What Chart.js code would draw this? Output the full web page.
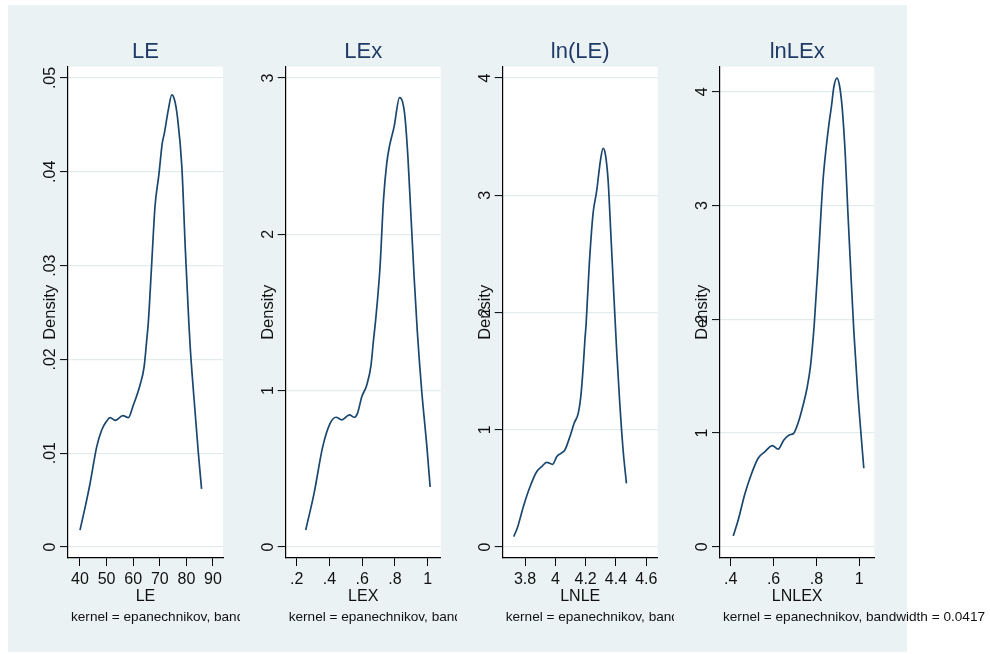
<!DOCTYPE html>
<html>
<head>
<meta charset="utf-8">
<script src="https://cdn.jsdelivr.net/npm/chart.js@4.4.1/dist/chart.umd.min.js"></script>
<style>
  html, body { margin: 0; padding: 0; background: #fff; }
  body { width: 990px; height: 654px; position: relative; overflow: hidden; }
  #bg { position: absolute; left: 8px; top: 5px; width: 899px; height: 647px; background: #eaf2f3; }
  canvas { position: absolute; top: 0; }
</style>
</head>
<body>
<div id="bg"></div>
<canvas id="pLE" width="232" height="654" style="left:8px"></canvas>
<canvas id="pLEX" width="217" height="654" style="left:240px"></canvas>
<canvas id="pLNLE" width="217" height="654" style="left:457px"></canvas>
<canvas id="pLNLEX" width="316" height="654" style="left:674px"></canvas>
<script>
// kernel density curves
const leX = [40, 41.9, 43.8, 46.3, 48.2, 50, 51.3, 53.2, 56.1, 58.2, 59.9, 62.6, 64.1, 65.1, 65.7, 66.9, 68.2, 69.7, 70.9, 71.7, 73.2, 74.5, 75.5, 76.6, 78.3, 79.6, 80.9, 81.5, 82.9, 84.5, 85.7];
const leDensity = [.0018, .0042, .0068, .0107, .0125, .0134, .0138, .0135, .0140, .0138, .0150, .0173, .0192, .0221, .0240, .0299, .0363, .0398, .0430, .0441, .0466, .0482, .0477, .0459, .0405, .0317, .0240, .0210, .0157, .0100, .0062];

const lexX = [.255, .306, .359, .404, .440, .475, .522, .552, .571, .598, .628, .654, .669, .681, .709, .730, .750, .766, .795, .828, .846, .861, .879, .897, .917, .936, .963, .995, 1.015];
const lexDensity = [.109, .343, .642, .791, .830, .813, .845, .830, .855, .962, 1.036, 1.164, 1.324, 1.44, 1.793, 2.22, 2.455, 2.561, 2.689, 2.875, 2.849, 2.753, 2.497, 2.135, 1.729, 1.388, 1.004, .642, .384];

const lnleX = [3.726, 3.752, 3.789, 3.833, 3.877, 3.910, 3.943, 3.982, 4.009, 4.037, 4.063, 4.096, 4.124, 4.151, 4.168, 4.184, 4.195, 4.203, 4.223, 4.249, 4.272, 4.298, 4.315, 4.331, 4.348, 4.366, 4.386, 4.405, 4.425, 4.447, 4.469];
const lnleDensity = [.088, .173, .344, .514, .642, .685, .722, .705, .770, .799, .827, .941, 1.055, 1.140, 1.282, 1.538, 1.765, 1.90, 2.39, 2.846, 3.03, 3.30, 3.40, 3.343, 3.13, 2.675, 2.149, 1.663, 1.228, .827, .543];

const lnlexX = [.412, .435, .467, .498, .528, .560, .595, .621, .648, .673, .694, .714, .738, .756, .772, .784, .790, .807, .831, .846, .859, .870, .882, .896, .908, .921, .935, .947, .963, .975, .993, 1.009, 1.021];
const lnlexDensity = [.094, .235, .470, .646, .778, .836, .888, .857, .938, .982, .997, 1.085, 1.246, 1.393, 1.583, 1.818, 1.96, 2.463, 3.226, 3.518, 3.724, 3.870, 4.05, 4.12, 4.05, 3.84, 3.43, 2.93, 2.317, 1.88, 1.349, .967, .690];

// tick values and their Stata-style labels
const leXTicks = [40, 50, 60, 70, 80, 90];
const leXTickLabels = ['40', '50', '60', '70', '80', '90'];
const leYTicks = [0, .01, .02, .03, .04, .05];
const leYTickLabels = ['0', '.01', '.02', '.03', '.04', '.05'];

const lexXTicks = [.2, .4, .6, .8, 1];
const lexXTickLabels = ['.2', '.4', '.6', '.8', '1'];
const lexYTicks = [0, 1, 2, 3];
const lexYTickLabels = ['0', '1', '2', '3'];

const lnleXTicks = [3.8, 4, 4.2, 4.4, 4.6];
const lnleXTickLabels = ['3.8', '4', '4.2', '4.4', '4.6'];
const lnleYTicks = [0, 1, 2, 3, 4];
const lnleYTickLabels = ['0', '1', '2', '3', '4'];

const lnlexXTicks = [.4, .6, .8, 1];
const lnlexXTickLabels = ['.4', '.6', '.8', '1'];
const lnlexYTicks = [0, 1, 2, 3, 4];
const lnlexYTickLabels = ['0', '1', '2', '3', '4'];

const FONT = '"Liberation Sans", Arial, Helvetica, sans-serif';
const LINE_COLOR = '#1a476f';
const TITLE_COLOR = '#1f3a66';
const TEXT_COLOR = '#111';
const GRID_COLOR = '#e3ebed';
const Y_AXIS_W = 40;
const X_AXIS_H = 60;

function decorPlugin(p) {
  return {
    id: 'decor',
    beforeDraw(chart) {
      const { ctx, chartArea: a } = chart;
      ctx.save();
      ctx.fillStyle = '#fff';
      ctx.fillRect(a.left, a.top, a.right - a.left, a.bottom - a.top);
      ctx.restore();
    },
    afterDraw(chart) {
      const { ctx, chartArea: a, scales } = chart;
      ctx.save();
      ctx.textAlign = 'center';
      ctx.textBaseline = 'middle';

      ctx.fillStyle = TITLE_COLOR;
      ctx.font = `22px ${FONT}`;
      ctx.fillText(p.title, (a.left + a.right) / 2, a.top - 15);

      // vertical y tick labels, as Stata draws them
      ctx.fillStyle = TEXT_COLOR;
      ctx.font = `16px ${FONT}`;
      p.yTicks.forEach((v, i) => {
        ctx.save();
        ctx.translate(a.left - 17.5, scales.y.getPixelForValue(v));
        ctx.rotate(-Math.PI / 2);
        ctx.fillText(p.yTickLabels[i], 0, 0);
        ctx.restore();
      });

      ctx.textAlign = 'left';
      ctx.font = `13.6px ${FONT}`;
      ctx.fillText(p.note, a.left + 3, a.bottom + 59);
      ctx.restore();
    }
  };
}

function makePanel(canvasId, p) {
  const canvas = document.getElementById(canvasId);
  const points = p.xs.map((x, i) => ({ x, y: p.ys[i] }));

  return new Chart(canvas.getContext('2d'), {
    type: 'line',
    data: {
      datasets: [{
        data: points,
        borderColor: LINE_COLOR,
        borderWidth: 1.7,
        pointRadius: 0,
        fill: false,
        cubicInterpolationMode: 'monotone'
      }]
    },
    options: {
      responsive: false,
      animation: false,
      devicePixelRatio: 1,
      layout: { padding: p.padding },
      plugins: { legend: { display: false }, tooltip: { enabled: false } },
      scales: {
        x: {
          type: 'linear',
          min: p.xMin,
          max: p.xMax,
          afterBuildTicks: (s) => { s.ticks = p.xTicks.map(v => ({ value: v })); },
          afterFit: (s) => { s.height = X_AXIS_H; },
          ticks: {
            color: TEXT_COLOR,
            padding: 4,
            maxRotation: 0,
            autoSkip: false,
            font: { family: FONT, size: 16 },
            callback: (v) => p.xTickLabels[p.xTicks.indexOf(v)]
          },
          grid: { drawOnChartArea: false, drawTicks: true, tickLength: 8, tickColor: '#000', tickWidth: 1 },
          border: { display: true, color: '#000', width: 1.2 },
          title: {
            display: true,
            text: p.xTitle,
            color: TEXT_COLOR,
            font: { family: FONT, size: 16 },
            padding: { top: 0, bottom: 11.6 }
          }
        },
        y: {
          type: 'linear',
          min: p.yMin,
          max: p.yMax,
          afterBuildTicks: (s) => { s.ticks = p.yTicks.map(v => ({ value: v })); },
          afterFit: (s) => { s.width = Y_AXIS_W; },
          ticks: { display: false },
          grid: { color: GRID_COLOR, lineWidth: 1.2, drawTicks: true, tickLength: 8, tickColor: '#000', tickWidth: 1 },
          border: { display: true, color: '#000', width: 1.2 },
          title: {
            display: true,
            text: 'Density',
            color: TEXT_COLOR,
            font: { family: FONT, size: 16.5 },
            padding: { top: 12.6, bottom: 0 }
          }
        }
      }
    },
    plugins: [decorPlugin(p)]
  });
}

makePanel('pLE', {
  title: 'LE', xTitle: 'LE', note: 'kernel = epanechnikov, bandwidth',
  xs: leX, ys: leDensity,
  xTicks: leXTicks, xTickLabels: leXTickLabels, yTicks: leYTicks, yTickLabels: leYTickLabels,
  xMin: 35.49, xMax: 93.76, yMin: -0.001173, yMax: 0.051205,
  padding: { left: 20, right: 17, top: 66.7, bottom: 36 }
});

makePanel('pLEX', {
  title: 'LEx', xTitle: 'LEX', note: 'kernel = epanechnikov, bandwidth',
  xs: lexX, ys: lexDensity,
  xTicks: lexXTicks, xTickLabels: lexXTickLabels, yTicks: lexYTicks, yTickLabels: lexYTickLabels,
  xMin: 0.1328, xMax: 1.0794, yMin: -0.0704, yMax: 3.0723,
  padding: { left: 5.7, right: 16.3, top: 66.7, bottom: 36 }
});

makePanel('pLNLE', {
  title: 'ln(LE)', xTitle: 'LNLE', note: 'kernel = epanechnikov, bandwidth',
  xs: lnleX, ys: lnleDensity,
  xTicks: lnleXTicks, xTickLabels: lnleXTickLabels, yTicks: lnleYTicks, yTickLabels: lnleYTickLabels,
  xMin: 3.6529, xMax: 4.6752, yMin: -0.0938, yMax: 4.0964,
  padding: { left: 5.7, right: 16.3, top: 66.7, bottom: 36 }
});

makePanel('pLNLEX', {
  title: 'lnLEx', xTitle: 'LNLEX', note: 'kernel = epanechnikov, bandwidth = 0.0417',
  xs: lnlexX, ys: lnlexDensity,
  xTicks: lnlexXTicks, xTickLabels: lnlexXTickLabels, yTicks: lnlexYTicks, yTickLabels: lnlexYTickLabels,
  xMin: 0.3501, xMax: 1.070, yMin: -0.0993, yMax: 4.2198,
  padding: { left: 6, right: 115.7, top: 66.7, bottom: 36 }
});
</script>
</body>
</html>
